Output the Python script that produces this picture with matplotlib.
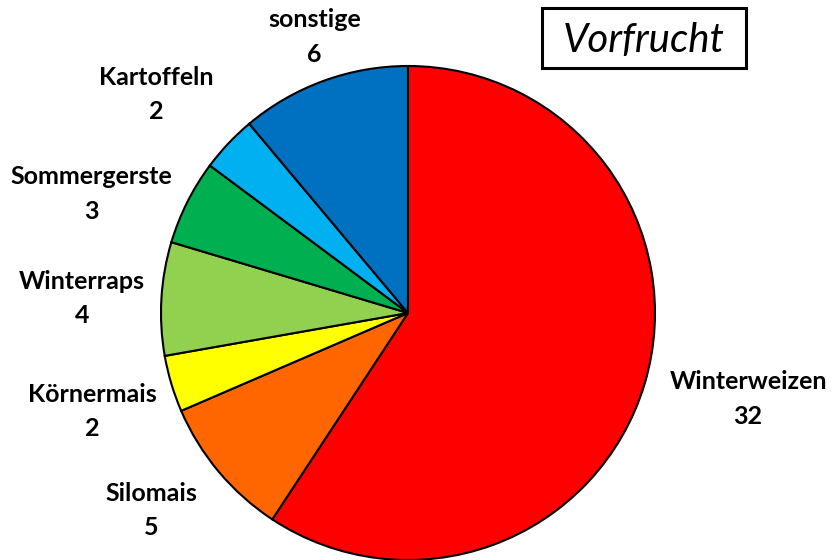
import numpy as np
import matplotlib
matplotlib.use("Agg")
import matplotlib.pyplot as plt
from matplotlib.patches import Rectangle

# Vorfrucht data
crops = ["Winterweizen", "Silomais", "Körnermais", "Winterraps",
         "Sommergerste", "Kartoffeln", "sonstige"]
counts = [32, 5, 2, 4, 3, 2, 6]
colors = ["#FF0000", "#FF6600", "#FFFF00", "#92D050",
          "#00B050", "#00B0F0", "#0070C0"]

# label placement (distance in radii, angle nudge in degrees)
label_dist = [1.42, 1.31, 1.34, 1.32, 1.37, 1.35, 1.18]
label_nudge = [2.5, -2.4, 0.7, 0.8, 6.1, 2.4, -1.3]

plt.rcParams["font.family"] = ["Lato", "DejaVu Sans"]

fig = plt.figure(figsize=(8.32, 5.6), dpi=100)
ax = fig.add_axes([161 / 832, 0.0, 494 / 832, 494 / 560])

wedges, _ = ax.pie(counts, colors=colors, startangle=90, counterclock=False,
                   radius=1.0,
                   wedgeprops=dict(edgecolor="black", linewidth=1.5))
ax.set_xlim(-1, 1)
ax.set_ylim(-1, 1)
ax.set_aspect("equal")
ax.axis("off")

for w, name, n, d, dn in zip(wedges, crops, counts, label_dist, label_nudge):
    mid = np.deg2rad((w.theta1 + w.theta2) / 2 + dn)
    ax.text(d * np.cos(mid), d * np.sin(mid), f"{name}\n{n}",
            ha="center", va="center", fontsize=18, fontweight="bold",
            linespacing=1.6, clip_on=False)

# title box
fig.patches.append(Rectangle((542 / 832, 1 - 68 / 560), 204 / 832, 60 / 560,
                             transform=fig.transFigure, facecolor="white",
                             edgecolor="black", linewidth=2.2))
fig.text(644 / 832, 1 - 40 / 560, "Vorfrucht", ha="center", va="center",
         fontsize=29, style="italic")

fig.savefig("out.png", dpi=100)
